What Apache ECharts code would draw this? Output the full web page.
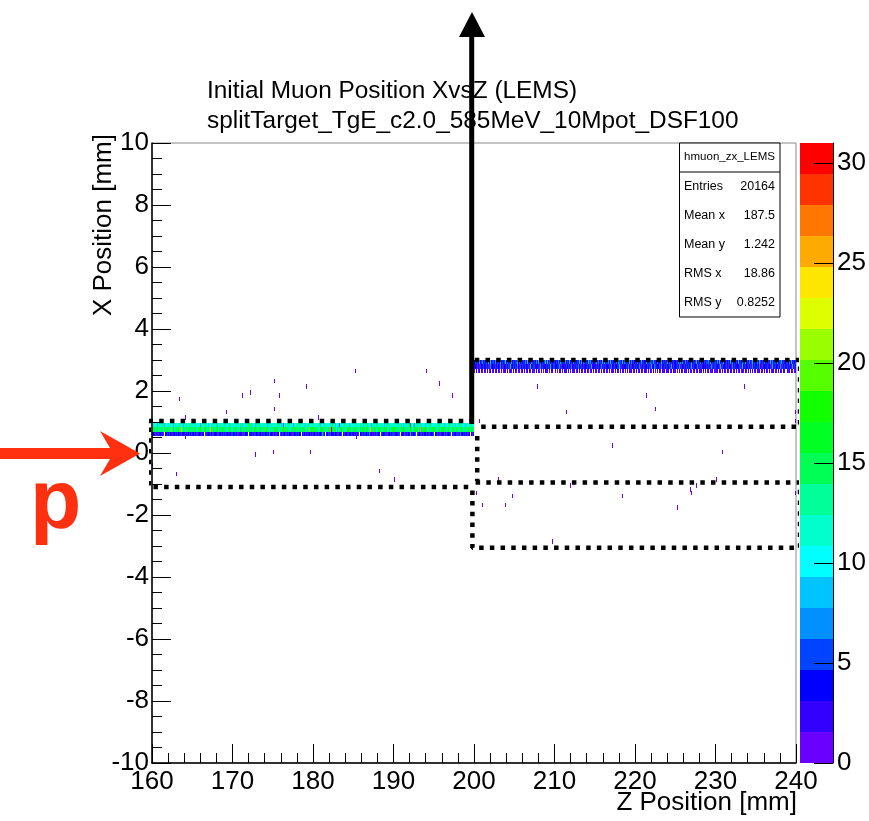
<!DOCTYPE html>
<html><head><meta charset="utf-8">
<script src="https://cdn.jsdelivr.net/npm/echarts@6.0.0/dist/echarts.min.js"></script>
<style>html,body{margin:0;padding:0;background:#fff}#c{width:869px;height:821px}</style>
</head><body><div id="c"></div>
<script>
const FONT = '"Liberation Sans", Arial, Helvetica, sans-serif';

// ---- axes ----
const zAxisRange = [160, 240];
const xAxisRange = [-10, 10];
const colorTicks = [0, 5, 10, 15, 20, 25, 30];
const zMax = 31;
const nLevels = 20;
const paletteColors = ['#6a00ff','#3300ff','#0000ff','#0044ff','#0090ff','#00c4ff','#00ffff','#00ffcc','#00ff99','#00ff55',
                       '#00ff22','#11ff00','#55ff00','#99ff00','#ddff00','#ffe600','#ffaa00','#ff7700','#ff3300','#ff0000'];

// ---- histogram binning ----
const zBinWidth = 0.125;
const xBinHeight = 0.14;
const leftBandZStart = 160;
const rightBandZStart = 200;

// counts per z-bin, one char per bin, base-32 digit (0-9, a=10 ... v=31)
const leftBandRowX = [0.90, 0.76, 0.62];
const leftBandCounts = [
  "abcab9dcba"+"eb8cabdcba"+"c9bdcabeca"+"b9cbgacbea"+"cbadbcab7c"+"dbaecb9abc"+"dcbaf9cbdb"+"acebcab8dc"+
  "bacdbcaeb9"+"cadbcbhcgb"+"ca9dbceabc"+"bdac8bcadb"+"cabdbeca9b"+"6adbcbeacb"+"7cadbcfbac"+"bd9abecbac"+
  "dbcacbe9ab"+"cdbacbcdae"+"bc8abd5bac"+"beadbc9cab"+"acbdcbaecb"+"9adbgbac8b"+"dcaebcbadc"+"b9acebdcab"+
  "bcadbcbea9"+"cbdach6abd"+"7cbeacbdac"+"b9cabdebca"+"cabdcebacb"+"9dcabgbadc"+"b8acebdcba"+"c9bdacbecb",
  "dfgcehbfdi"+"ecgbfhdeck"+"fgdbhegcfn"+"dgebhcfgde"+"gcfhdbegif"+"cdhgebfcmh"+"dgfceibgdf"+"hecgdbfiec"+
  "fdhgceb8id"+"gchfebgdhf"+"cgiedbhfgc"+"edjgfbdhce"+"cgefhdbgci"+"fehdgbfceg"+"dhfbicgedh"+"fgbcedlfhg"+
  "ehdgfcbihg"+"dfcebgfdvg"+"cieb9fdghc"+"efbdgihecf"+"dgfhcebgdf"+"iechgbdohe"+"cgfdbhigce"+"dfghbcfedg"+
  "hfcgedbifh"+"gcdebfhgcd"+"iefgbhcrfe"+"gihcbgdfeh"+"fgdchebgfi"+"dhcegfbdhg"+"cefidbghfc"+"edgbhfcigd",
  "3425136245"+"3104263542"+"1346254316"+"2435214635"+"2463152436"+"2401534263"+"5124365241"+"3625341426"+
  "4352613425"+"1634205436"+"2514362453"+"1642537243"+"5316240536"+"2415364235"+"1426354203"+"6452134625"+
  "3415263428"+"5302461534"+"2643152460"+"3524163452"+"4136250436"+"2514637241"+"3526143062"+"4351624536"+
  "1243650342"+"5136429314"+"2605341536"+"4253162435"+"0426315243"+"6153426035"+"2451637241"+"3526140352"
];
const rightBandRowX = [2.93, 2.79, 2.65];
const rightBandCounts = [
  "4536284573"+"6452938465"+"3746528364"+"5847362945"+"3658473625"+"4738264953"+"6473825463"+"5928374635"+
  "4637285463"+"7354826374"+"5463928475"+"3648573624"+"5837462938"+"4657382645"+"3748562947"+"6354827364"+
  "5473628354"+"4836275493"+"6472538463"+"5384726354"+"4637582934"+"7364528463"+"5846372645"+"3657482536"+
  "4738265943"+"6453827364"+"5382647538"+"4637258463"+"3748526374"+"5463827465"+"4736582634"+"6547382546",
  "3425316425"+"4352617342"+"2536427351"+"4263518246"+"3527416352"+"2643518436"+"5324617253"+"3462538246"+
  "4235716342"+"2546317425"+"3627415362"+"4352618243"+"2536417352"+"5342617435"+"3425816324"+"4637215436"+
  "2543716253"+"3462518347"+"5324617425"+"2634518362"+"4253716435"+"3526418253"+"4372516342"+"2546317536"+
  "3425816243"+"5362417352"+"2435618436"+"4263517254"+"3547216342"+"2634518435"+"4352716253"+"3526418362",
  "1020130210"+"2103012012"+"0120310201"+"1302012103"+"0210130120"+"2013021031"+"1020310201"+"0312010230"+
  "2010320102"+"1203010213"+"0120302101"+"3021012030"+"1203102012"+"0210301210"+"2031020130"+"1020312012"+
  "0301202103"+"2102031020"+"1030210312"+"0212013021"+"2010302103"+"1203021012"+"0120312030"+"3012021201"+
  "1203102031"+"0210320120"+"2013012103"+"1020302012"+"0312021030"+"2103012201"+"1020310320"+"0213021012"
];

// isolated single-entry bins
const strayZ = [163.4,164.1,164.1,169.2,171.3,172.2,175.2,175.2,175.9,179.2,180.7,185.3,185.4,194.1,195.7,197.3,
  172.8,175.1,179.7,163.1,188.2,190.1,160.1,200.3,200.7,207.9,233.6,221.4,222.5,211.5,239.9,239.9,217.2,230.9,
  203.1,230.1,212.0,227.6,226.9,227.0,204.8,218.5,201.1,203.9,225.3,209.8,239.9];
const strayX = [1.74,1.15,0.51,1.33,1.85,1.95,2.33,1.43,1.85,2.14,1.14,2.65,0.51,2.65,2.24,1.85,
  -0.05,0.04,0.04,-0.67,-0.57,-0.86,-0.39,-1.28,1.04,2.14,2.14,1.85,1.43,1.33,1.33,1.04,0.24,0.04,
  -0.86,-0.86,-1.05,-1.05,-1.18,-1.28,-1.38,-1.38,-1.67,-1.67,-1.76,-2.86,-1.28];

// stats box
const statsTitle = 'hmuon_zx_LEMS';
const statsLabels = ['Entries', 'Mean x', 'Mean y', 'RMS x', 'RMS y'];
const statsValues = ['20164', '187.5', '1.242', '18.86', '0.8252'];

// dotted target outlines (data coordinates z, x)
const dottedPaths = [
  [[200,1.03],[159.6,1.03],[159.6,-1.1],[200,-1.1]],
  [[200.4,0.55],[200.4,-0.9]],
  [[200.1,3.0],[240.5,3.0],[240.5,0.85],[200.4,0.85]],
  [[200.2,-0.95],[240.5,-0.95],[240.5,-3.06],[199.8,-3.06],[199.8,-1.2]]
];

// ---- build bin table ----
const bins = [];
function addBand(zStart, rowX, rows) {
  rows.forEach((s, r) => {
    for (let i = 0; i < s.length; i++) {
      const c = parseInt(s[i], 32);
      if (c > 0) bins.push([zStart + (i + 0.5) * zBinWidth, rowX[r], c]);
    }
  });
}
addBand(leftBandZStart, leftBandRowX, leftBandCounts);
addBand(rightBandZStart, rightBandRowX, rightBandCounts);
strayZ.forEach((z, i) => bins.push([z, strayX[i], 1]));

function colorFor(c) {
  const lvl = Math.min(nLevels - 1, Math.floor(c / (zMax / nLevels)));
  return paletteColors[lvl];
}
const colorBands = paletteColors.map((col, i) => [i * zMax / nLevels, (i + 1) * zMax / nLevels, i]);

const chart = echarts.init(document.getElementById('c'), null, {renderer: 'canvas'});

const axisCommon = {
  axisLine: {show: true, onZero: false, lineStyle: {color: '#000', width: 1.5}},
  axisTick: {show: true, inside: true, length: 19, lineStyle: {color: '#000', width: 1}},
  minorTick: {show: true, length: 10, lineStyle: {color: '#000', width: 1}},
  splitLine: {show: false},
  axisLabel: {color: '#000', fontSize: 26, fontFamily: FONT}
};

const series = [{
  type: 'custom', xAxisIndex: 0, yAxisIndex: 0, clip: true, silent: true, z: 1,
  data: bins, encode: {x: 0, y: 1},
  renderItem: function (params, api) {
    const z = api.value(0), x = api.value(1), c = api.value(2);
    const a = api.coord([z - zBinWidth / 2, x + xBinHeight / 2]);
    const b = api.coord([z + zBinWidth / 2, x - xBinHeight / 2]);
    const x0 = Math.round(a[0]);
    const x1 = Math.max(Math.round(b[0]), x0 + 1);
    const y0 = Math.round(a[1]), y1 = Math.round(b[1]);
    return {type: 'rect', shape: {x: x0, y: y0, width: x1 - x0, height: y1 - y0}, style: {fill: colorFor(c)}};
  }
}, {
  type: 'custom', xAxisIndex: 1, yAxisIndex: 1, silent: true, z: 1,
  data: colorBands, encode: {y: [0, 1]},
  renderItem: function (params, api) {
    const lo = api.value(0), hi = api.value(1), i = api.value(2);
    const a = api.coord([0, hi]);
    const b = api.coord([1, lo]);
    return {type: 'rect', shape: {x: a[0], y: Math.round(a[1]), width: b[0] - a[0], height: Math.round(b[1]) - Math.round(a[1])},
      style: {fill: paletteColors[i]}};
  }
}, {
  // colour-bar tick marks, pointing into the bar from its right edge
  type: 'custom', xAxisIndex: 1, yAxisIndex: 1, silent: true, z: 6,
  data: colorTicks.map(v => [1, v]), encode: {x: 0, y: 1},
  renderItem: function (params, api) {
    const p = api.coord([api.value(0), api.value(1)]);
    const y = Math.round(p[1]) + 0.5;
    return {type: 'line', shape: {x1: p[0] - 19, y1: y, x2: p[0], y2: y}, style: {stroke: '#000', lineWidth: 1}};
  }
}];
dottedPaths.forEach(p => series.push({
  type: 'line', xAxisIndex: 0, yAxisIndex: 0, data: p, clip: false, silent: true,
  symbol: 'none', z: 5,
  lineStyle: {color: '#000', width: 4.5, type: [4.5, 6.2], cap: 'butt'}
}));

const graphic = [
  // title
  {type: 'text', x: 207, y: 91, style: {text: 'Initial Muon Position XvsZ (LEMS)', font: '24.4px ' + FONT, fill: '#000', textVerticalAlign: 'middle', verticalAlign: 'middle'}},
  {type: 'text', x: 207, y: 121, style: {text: 'splitTarget_TgE_c2.0_585MeV_10Mpot_DSF100', font: '24.4px ' + FONT, fill: '#000', textVerticalAlign: 'middle', verticalAlign: 'middle'}},
  // axis titles
  {type: 'text', x: 797, y: 803, style: {text: 'Z Position [mm]', font: '26px ' + FONT, fill: '#000', textAlign: 'right', align: 'right', textVerticalAlign: 'middle', verticalAlign: 'middle'}},
  {type: 'text', x: 104, y: 134, rotation: Math.PI / 2, style: {text: 'X Position [mm]', font: '26px ' + FONT, fill: '#000', textAlign: 'right', align: 'right', textVerticalAlign: 'middle', verticalAlign: 'middle'}},
  // stats box
  {type: 'rect', shape: {x: 679.5, y: 143, width: 100.5, height: 174}, style: {fill: '#fff', stroke: '#000', lineWidth: 1}, z: 10},
  {type: 'line', shape: {x1: 679.5, y1: 172, x2: 780, y2: 172}, style: {stroke: '#000', lineWidth: 1}, z: 10},
  {type: 'text', x: 729.5, y: 157, z: 11, style: {text: statsTitle, font: '11.5px ' + FONT, fill: '#000', textAlign: 'center', align: 'center', textVerticalAlign: 'middle', verticalAlign: 'middle'}}
];
statsLabels.forEach((lab, i) => {
  const y = 187 + i * 29;
  graphic.push({type: 'text', x: 684, y: y, z: 11, style: {text: lab, font: '12.5px ' + FONT, fill: '#000', textVerticalAlign: 'middle', verticalAlign: 'middle'}});
  graphic.push({type: 'text', x: 775, y: y, z: 11, style: {text: statsValues[i], font: '12.5px ' + FONT, fill: '#000', textAlign: 'right', align: 'right', textVerticalAlign: 'middle', verticalAlign: 'middle'}});
});
// black arrow
graphic.push({type: 'line', shape: {x1: 471.7, y1: 424, x2: 471.7, y2: 34}, style: {stroke: '#000', lineWidth: 5}, z: 20});
graphic.push({type: 'polygon', shape: {points: [[459, 37], [485, 37], [472, 12]]}, style: {fill: '#000'}, z: 20});
// red arrow and label
graphic.push({type: 'polygon', shape: {points: [[0, 448], [110, 448], [100, 431], [140, 453.5], [100, 476], [110, 459], [0, 459]]}, style: {fill: '#fe3010'}, z: 20});
graphic.push({type: 'text', x: 30, y: 463, z: 20, style: {text: 'p', font: 'bold 84px ' + FONT, fill: '#fe3010', textVerticalAlign: 'alphabetic', verticalAlign: 'alphabetic'}});

chart.setOption({
  animation: false,
  backgroundColor: '#fff',
  grid: [
    {left: 152, top: 143, width: 644, height: 620, show: true, borderColor: '#888', borderWidth: 1, backgroundColor: 'transparent'},
    {left: 800, top: 143, width: 36, height: 620}
  ],
  xAxis: [
    Object.assign({}, axisCommon, {type: 'value', gridIndex: 0, min: zAxisRange[0], max: zAxisRange[1], interval: 10, z: 10,
      minorTick: Object.assign({}, axisCommon.minorTick, {splitNumber: 5}),
      axisLabel: Object.assign({}, axisCommon.axisLabel, {margin: 6})}),
    {type: 'value', gridIndex: 1, min: 0, max: 1, show: false}
  ],
  yAxis: [
    Object.assign({}, axisCommon, {type: 'value', gridIndex: 0, min: xAxisRange[0], max: xAxisRange[1], interval: 2, z: 10,
      minorTick: Object.assign({}, axisCommon.minorTick, {splitNumber: 4}),
      axisLabel: Object.assign({}, axisCommon.axisLabel, {margin: 3})}),
    {type: 'value', gridIndex: 1, min: 0, max: zMax, position: 'right', z: 10,
      axisLine: {show: true, onZero: false, lineStyle: {color: '#000', width: 1}},
      axisTick: {show: false},
      axisLabel: {color: '#000', fontSize: 26, fontFamily: FONT, margin: 4, customValues: colorTicks},
      splitLine: {show: false}}
  ],
  series: series,
  graphic: graphic
});
</script>
</body></html>
